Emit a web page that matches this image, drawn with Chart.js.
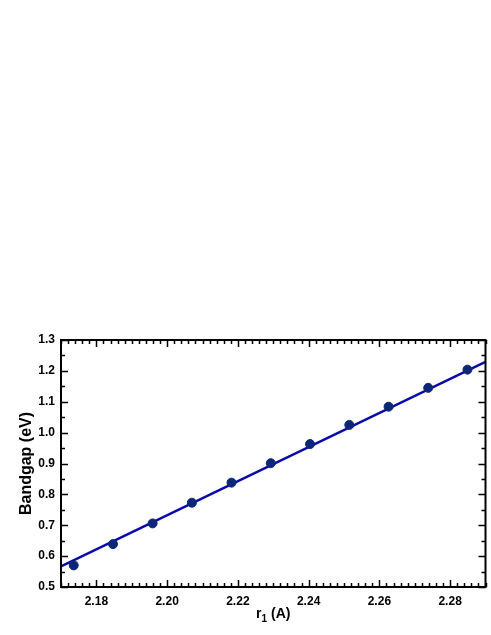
<!DOCTYPE html>
<html>
<head>
<meta charset="utf-8">
<script src="https://cdn.jsdelivr.net/npm/chart.js@4"></script>
<style>
  html, body { margin: 0; padding: 0; background: #fff; }
  #wrap { width: 491px; height: 635px; }
</style>
</head>
<body>
<div id="wrap"><canvas id="chart"></canvas></div>
<script>
// Dados medidos (r1 em Angstrom, bandgap em eV)
const r1 = [2.1736, 2.1847, 2.1959, 2.2070, 2.2182, 2.2293, 2.2404, 2.2515, 2.2626, 2.2738, 2.2849];
const bandgap = [0.570, 0.639, 0.706, 0.773, 0.838, 0.901, 0.963, 1.025, 1.084, 1.145, 1.204];

// Reta de ajuste (extremos)
const fitX = [2.17, 2.29];
const fitY = [0.567, 1.229];

// Marcas dos eixos
const xTicks = [2.18, 2.20, 2.22, 2.24, 2.26, 2.28];
const yTicks = [0.5, 0.6, 0.7, 0.8, 0.9, 1.0, 1.1, 1.2, 1.3];

const FONT = "'Liberation Sans', Arial, Helvetica, sans-serif";

// Moldura e ticks para dentro (estilo gráfico científico)
const frameTicks = {
  id: "frameTicks",
  afterDraw(chart) {
    const { ctx, chartArea: a, scales } = chart;
    const xs = scales.x, ys = scales.y;
    ctx.save();
    ctx.strokeStyle = "#000";
    ctx.lineWidth = 1.5;
    // ticks x: menores a cada 0.002, maiores a cada 0.02
    for (let i = 0; i <= 60; i++) {
      const px = Math.round(xs.getPixelForValue(2.17 + i * 0.002)) + 0.5;
      const len = (i - 5) % 10 === 0 ? 7 : 4;
      ctx.beginPath();
      ctx.moveTo(px, a.bottom); ctx.lineTo(px, a.bottom - len);
      ctx.moveTo(px, a.top); ctx.lineTo(px, a.top + len);
      ctx.stroke();
    }
    // ticks y: menores a cada 0.05
    for (let i = 0; i <= 16; i++) {
      const py = Math.round(ys.getPixelForValue(0.5 + i * 0.05)) + 0.5;
      const len = i % 2 === 0 ? 7 : 4;
      ctx.beginPath();
      ctx.moveTo(a.left, py); ctx.lineTo(a.left + len, py);
      ctx.moveTo(a.right, py); ctx.lineTo(a.right - len, py);
      ctx.stroke();
    }
    ctx.lineWidth = 2;
    ctx.strokeRect(a.left, a.top, a.right - a.left, a.bottom - a.top);

    // título do eixo x com subscrito: r1 (A)
    const big = "bold 14px " + FONT, small = "bold 10px " + FONT;
    ctx.fillStyle = "#000";
    ctx.textBaseline = "alphabetic";
    ctx.font = big;
    const wR = ctx.measureText("r").width;
    const wP = ctx.measureText(" (A)").width;
    ctx.font = small;
    const w1 = ctx.measureText("1").width;
    let x = (a.left + a.right) / 2 - (wR + w1 + wP) / 2;
    const base = 618;
    ctx.font = big;
    ctx.fillText("r", x, base);
    x += wR;
    ctx.font = small;
    ctx.fillText("1", x, base + 3.5);
    x += w1;
    ctx.font = big;
    ctx.fillText(" (A)", x, base);
    ctx.restore();
  },
};

const ctx = document.getElementById("chart").getContext("2d");
new Chart(ctx, {
  type: "scatter",
  data: {
    datasets: [
      {
        label: "Ajuste",
        data: fitX.map((x, i) => ({ x, y: fitY[i] })),
        showLine: true,
        borderColor: "#0a0aa8",
        borderWidth: 2.5,
        pointRadius: 0,
        order: 2,
      },
      {
        label: "Bandgap",
        data: r1.map((x, i) => ({ x, y: bandgap[i] })),
        backgroundColor: "#0d2777",
        borderColor: "#0d2777",
        pointRadius: 4.5,
        order: 1,
      },
    ],
  },
  plugins: [frameTicks],
  options: {
    responsive: true,
    maintainAspectRatio: false,
    animation: false,
    layout: { padding: { top: 340, right: 3, left: 0, bottom: 0 } },
    plugins: { legend: { display: false }, tooltip: { enabled: false } },
    scales: {
      x: {
        type: "linear",
        min: 2.17,
        max: 2.29,
        afterBuildTicks: (s) => { s.ticks = xTicks.map((v) => ({ value: v })); },
        afterFit: (s) => { s.height = 48; },
        grid: { display: false, drawTicks: false },
        border: { display: false },
        ticks: {
          color: "#000",
          padding: 7,
          maxRotation: 0,
          font: { family: FONT, size: 12, weight: "bold" },
          callback: (v) => v.toFixed(2),
        },
        title: { display: false },
      },
      y: {
        type: "linear",
        min: 0.5,
        max: 1.3,
        afterBuildTicks: (s) => { s.ticks = yTicks.map((v) => ({ value: v })); },
        afterFit: (s) => { s.width = 61; },
        grid: { display: false, drawTicks: false },
        border: { display: false },
        ticks: {
          color: "#000",
          padding: 6,
          font: { family: FONT, size: 12, weight: "bold" },
          callback: (v) => v.toFixed(1),
        },
        title: {
          display: true,
          text: "Bandgap (eV)",
          color: "#000",
          padding: { top: 17, bottom: 0 },
          font: { family: FONT, size: 16, weight: "bold" },
        },
      },
    },
  },
});
</script>
</body>
</html>
